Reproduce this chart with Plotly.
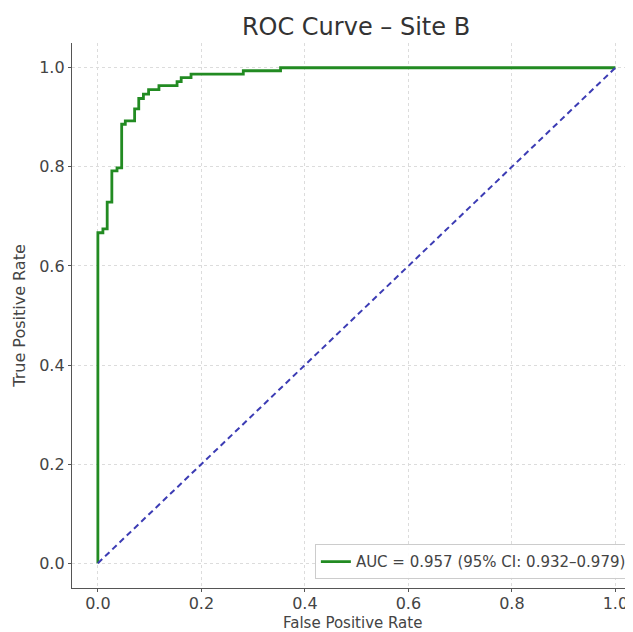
import plotly.graph_objects as go

# ROC curve corner points (top of each vertical step)
fpr = [0.0, 0.0, 0.0097, 0.018, 0.027, 0.037, 0.046, 0.053, 0.071, 0.079, 0.088, 0.098,
       0.118, 0.153, 0.161, 0.180, 0.281, 0.353, 1.0]
tpr = [0.0, 0.667, 0.675, 0.729, 0.792, 0.798, 0.886, 0.893, 0.917, 0.938, 0.947, 0.956,
       0.964, 0.972, 0.980, 0.987, 0.994, 1.0, 1.0]
chance_x = [0.0, 1.0]
chance_y = [0.0, 1.0]
legend_label = "AUC = 0.957 (95% CI: 0.932–0.979)"
x_title = "False Positive Rate"
y_title = "True Positive Rate"
tick_vals = [0.0, 0.2, 0.4, 0.6, 0.8, 1.0]
tick_text = ["0.0", "0.2", "0.4", "0.6", "0.8", "1.0"]

fig = go.Figure()
fig.add_trace(go.Scatter(
    x=fpr, y=tpr, mode="lines", line_shape="hv",
    line=dict(color="#228b22", width=2.8), name=legend_label))
fig.add_trace(go.Scatter(
    x=chance_x, y=chance_y, mode="lines",
    line=dict(color="#3c3cb4", width=2, dash="6px,4px"), showlegend=False))

font = "DejaVu Sans, Verdana, sans-serif"
axis_common = dict(
    showgrid=True, gridcolor="#dcdcdc", griddash="dot", gridwidth=1,
    zeroline=False, showline=True, linecolor="#555555", linewidth=1.3,
    ticks="outside", ticklen=3, tickcolor="#555555",
    tickfont=dict(family=font, size=16, color="#444444"),
    tickvals=tick_vals, ticktext=tick_text, ticklabeloverflow="allow",
)
fig.update_xaxes(range=[-0.05, 1.034], ticklabelstandoff=-2, **axis_common)
fig.update_yaxes(range=[-0.05, 1.05], title=dict(text=y_title,
                 font=dict(family=font, size=16, color="#444444"), standoff=9),
                 **axis_common)

# x-axis title placed as an annotation just below the tick labels
fig.add_annotation(text=x_title, xref="paper", yref="paper",
                   x=(352 - 72) / 561, y=-(623 - 588) / 545,
                   xanchor="center", yanchor="middle", showarrow=False,
                   font=dict(family=font, size=15, color="#444444"))

# page has an 8px body margin, so the figure is sized to fit inside the window
fig.update_layout(
    width=625, height=624,
    margin=dict(l=64, r=0, t=35, b=44),
    plot_bgcolor="white", paper_bgcolor="white",
    title=dict(text="ROC Curve – Site B", x=348/625, xanchor="center",
               y=1 - 19/624, yanchor="middle",
               font=dict(family=font, size=24, color="#333333")),
    legend=dict(x=0.998, y=0.016, xanchor="right", yanchor="bottom",
                bgcolor="rgba(255,255,255,0.9)", bordercolor="#cccccc", borderwidth=1,
                font=dict(family=font, size=15, color="#444444"),
                tracegroupgap=0, itemwidth=30),
    showlegend=True,
)

fig.write_html("out.html")
